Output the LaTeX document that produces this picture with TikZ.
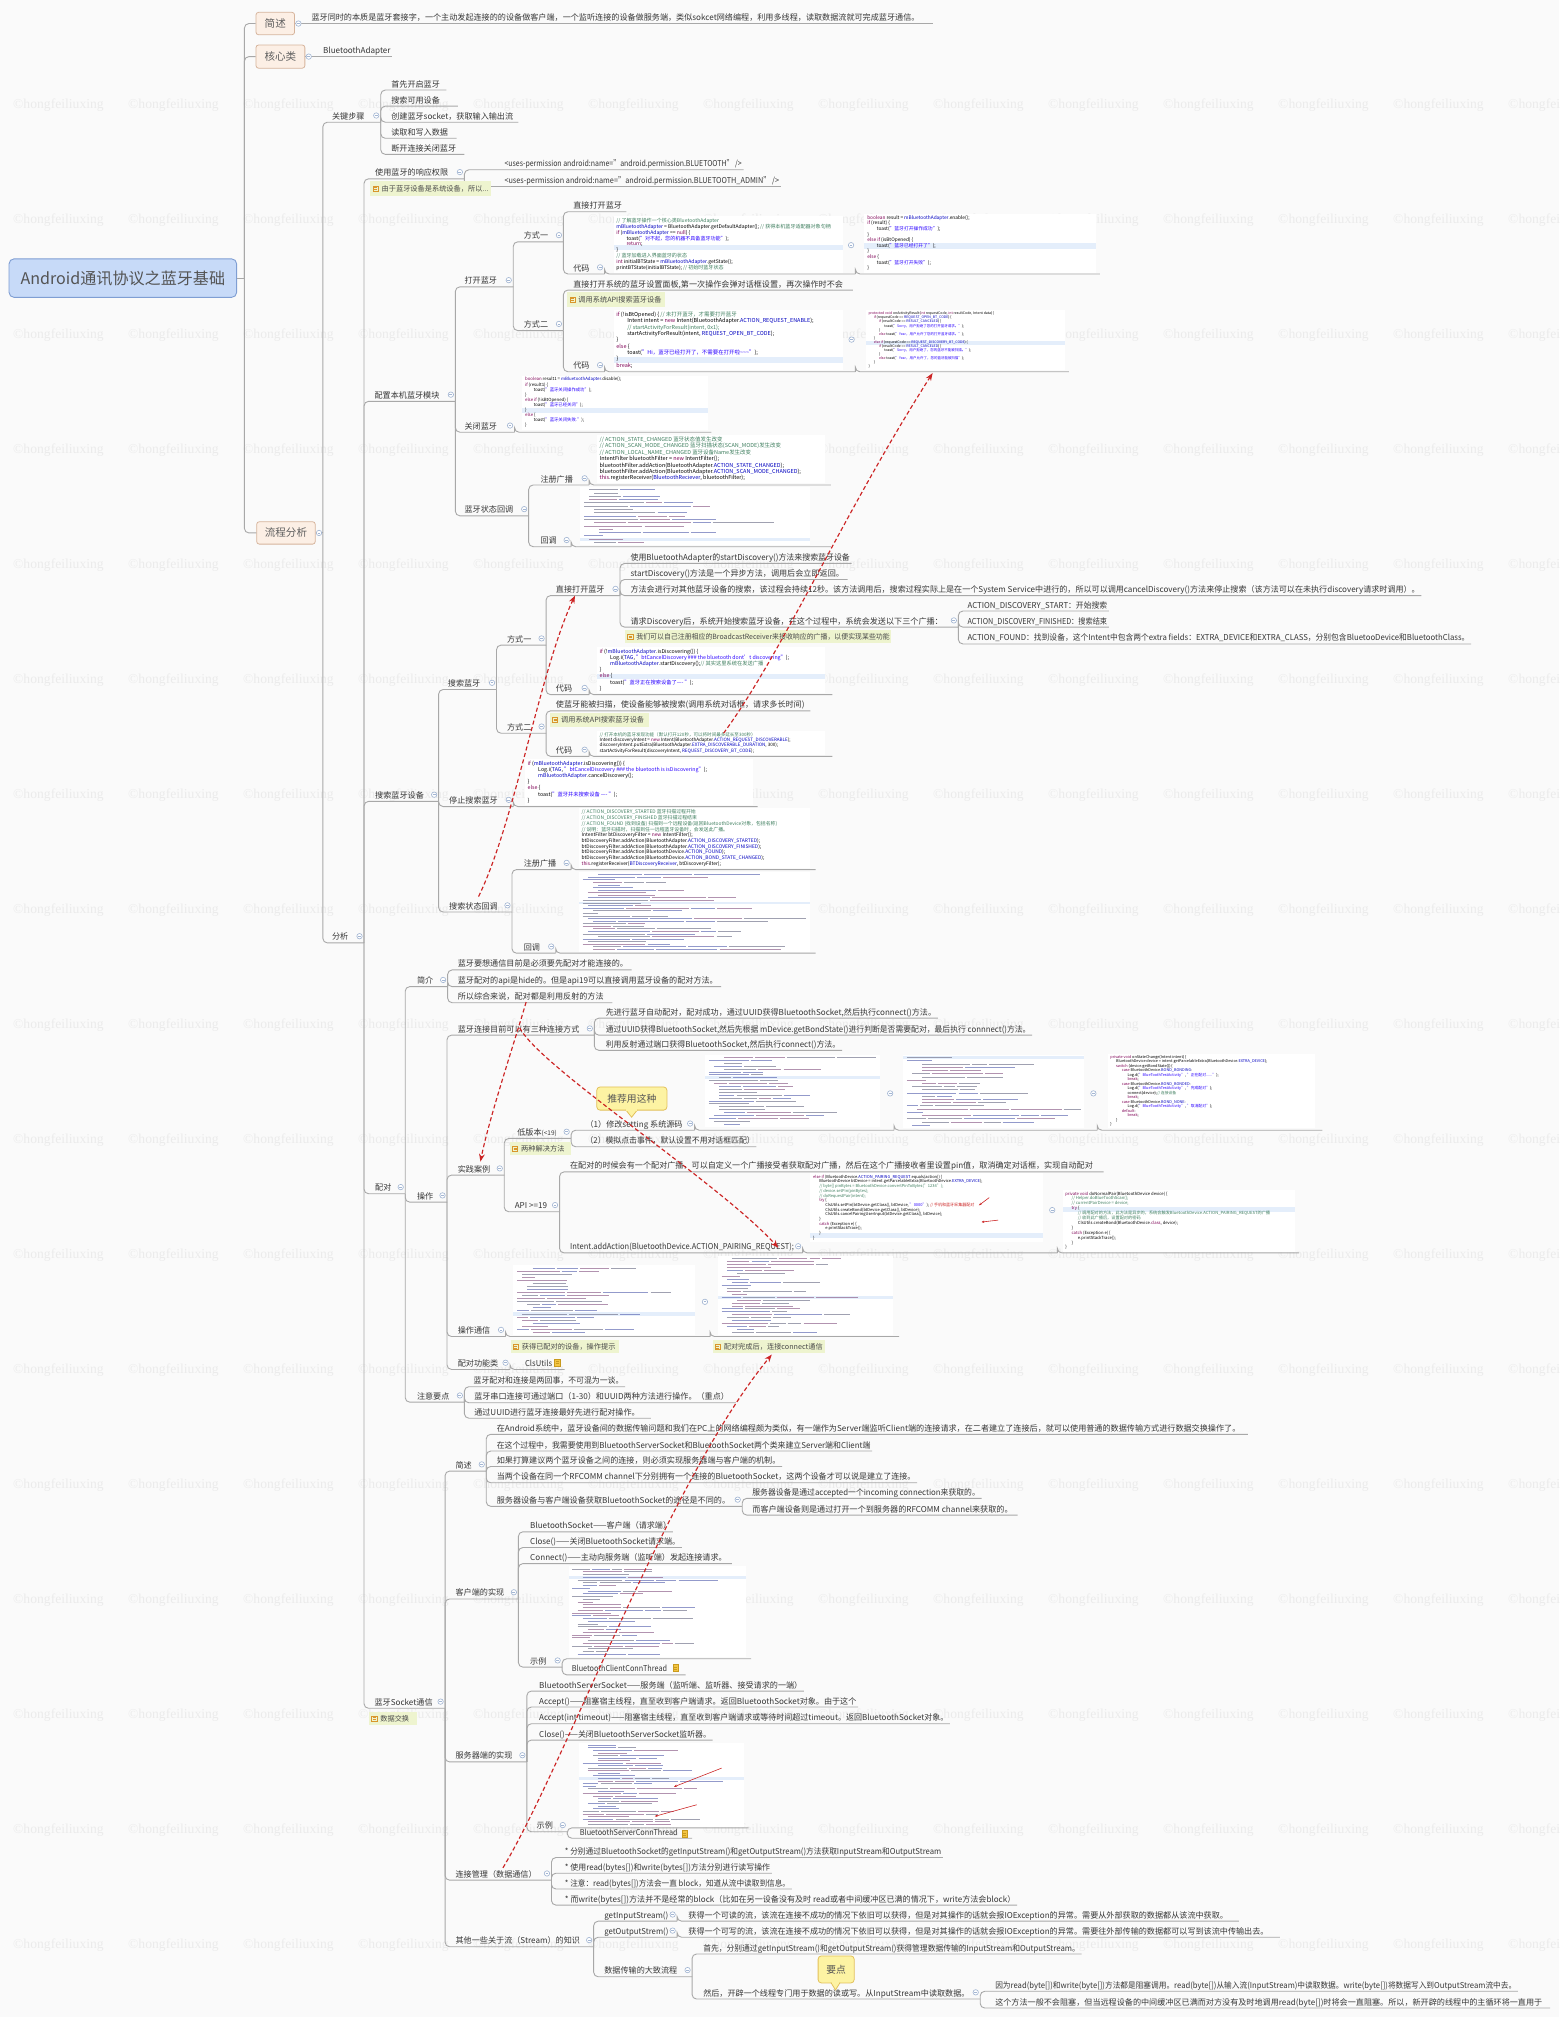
\documentclass[tikz,border=0pt]{standalone}
\usepackage{fontspec}
\usepackage{graphicx}
\setmainfont{Noto Sans CJK SC}
\newfontfamily\wmfont{Liberation Serif}
\usetikzlibrary{arrows.meta}
\definecolor{bgc}{HTML}{FAFAFA}
\definecolor{lnc}{HTML}{A8A8A8}
\definecolor{txc}{HTML}{363636}
\definecolor{lvfill}{HTML}{FCEFE5}
\definecolor{lvline}{HTML}{D6B49C}
\definecolor{rootfill}{HTML}{C7DAF8}
\definecolor{rootline}{HTML}{7F9ED3}
\definecolor{notebg}{HTML}{EEF4CF}
\definecolor{noteic}{HTML}{D9962B}
\definecolor{clpc}{HTML}{A3B6D3}
\definecolor{wmc}{HTML}{EBEBEB}
\definecolor{callfill}{HTML}{FDF3A3}
\definecolor{callline}{HTML}{E2C059}
\definecolor{redc}{HTML}{CC2424}
\definecolor{hlc}{HTML}{E4EEFB}
\definecolor{kwc}{HTML}{7F0055}
\definecolor{stc}{HTML}{2A00FF}
\definecolor{cmc}{HTML}{3F7F5F}
\definecolor{fdc}{HTML}{0000C0}
\definecolor{fakeA}{HTML}{6E7088}
\definecolor{fakeB}{HTML}{8A5A86}
\definecolor{fakeC}{HTML}{5A64B0}
\definecolor{fileic}{HTML}{F4C542}
\definecolor{fileln}{HTML}{C99A1E}
\newsavebox\fitb
\newcommand\fitw[2]{\sbox\fitb{#2}\ifdim\wd\fitb>#1\relax\resizebox{#1}{\ht\fitb}{\usebox\fitb}\else\usebox\fitb\fi}
\newcommand\fitbox[3]{\sbox\fitb{#3}\edef\fbw{\the\wd\fitb}\edef\fbh{\the\dimexpr\ht\fitb+\dp\fitb\relax}\pgfmathsetmacro\fsc{min((#1)/\fbw,(#2)/\fbh)}\scalebox{\fsc}{\usebox\fitb}}
\newcommand\kw[1]{\textcolor{kwc}{#1}}
\newcommand\cstr[1]{\textcolor{stc}{#1}}
\newcommand\ccm[1]{\textcolor{cmc}{#1}}
\newcommand\cfld[1]{\textcolor{fdc}{#1}}
\newcommand\codefnt{\fontsize{5}{5.8}\selectfont}
\tikzset{
  conn/.style={draw=lnc, line width=0.7pt, rounded corners=3.5pt},
  tpx/.style={anchor=base west, inner sep=0pt, text=txc, font=\fontsize{6.3}{7}\selectfont},
  lvbox/.style={draw=lvline, fill=lvfill, rounded corners=2pt, line width=0.6pt, inner sep=0pt, text=txc!80, font=\fontsize{8.2}{9}\selectfont},
  rootbox/.style={draw=rootline, fill=rootfill, rounded corners=4pt, line width=0.7pt, inner sep=0pt, text=txc!85, font=\fontsize{12.5}{14}\selectfont},
  clp/.style={draw=clpc, fill=white, line width=0.5pt},
  clpm/.style={draw=clpc, line width=0.5pt},
  imgb/.style={fill=white, draw=none, inner sep=0pt},
  wm/.style={text=wmc, font=\wmfont\fontsize{10.6}{11}\selectfont, inner sep=0pt, anchor=west},
  notet/.style={anchor=west, inner sep=0pt, text=txc!90, font=\fontsize{5.6}{6}\selectfont},
  redarr/.style={draw=redc, line width=0.9pt, dash pattern=on 3.2pt off 2pt, -{Stealth[length=6pt,width=4.5pt]}},
  redthin/.style={draw=redc, line width=0.45pt, -{Stealth[length=2.2pt,width=1.8pt]}},
  codef/.style={anchor=north west, inner sep=0pt},
  callb/.style={draw=callline, fill=callfill, rounded corners=2.5pt, line width=0.6pt, inner sep=0pt, text=txc!85, font=\fontsize{7.6}{8}\selectfont},
}
\newcommand\tpg[6]{\node[tpx] (#1) at (#2,#3-2.3) {\fitw{#5pt}{#6}};\coordinate (#1-e) at (#4,#3);}
\newcommand\tp[5]{\pgfmathsetmacro\tpw{#4-#2-1.5}\tpg{#1}{#2}{#3}{#4}{\tpw}{#5}}
\newcommand\clps[2]{\draw[clp] (#1,#2) circle[radius=2.1pt]; \draw[clpm] ({#1-1.1},#2)--({#1+1.1},#2);}
\newcommand\tpc[5]{\pgfmathsetmacro\tpw{#4-#2-7}\tpg{#1}{#2}{#3}{#4}{\tpw}{#5}\clps{#4-3.5}{#3-5.2}}
\newcommand\cn[2]{\draw[conn] (#1-e) |- (#2-e);}
\newcommand\cimg[7]{\pgfmathsetmacro\cw{#4-#2}\pgfmathsetmacro\ch{#5-#3}%
  \node[imgb, minimum width=\cw pt, minimum height=\ch pt] (#1) at ({(#2+#4)/2},{(#3+#5)/2}) {};%
  \coordinate (#1-e) at (#6,#7);}
\newcommand\codeblk[5]{\node[codef] at ({#1+2},{#2+1.2}) {\fitbox{#3-#1-4}{#4-#2-2.4}{\codefnt\begin{tabular}{@{}l@{}}#5\end{tabular}}};}
\newcommand\hlband[4]{\fill[hlc] (#1,#2) rectangle (#3,#4);}
% pseudo code texture for illegible screenshots
\newcommand\fakecode[6]{%
  \pgfmathsetmacro\flh{(#4-#2-2)/#5}%
  \pgfmathsetmacro\flw{\flh*0.3}%
  \pgfmathsetmacro\fmax{#3-#1-6}%
  \ifnum#6>0 \fill[hlc] (#1,{#2+1+(#6-1)*\flh}) rectangle (#3,{#2+1+#6*\flh});\fi
  \foreach \fq in {1,...,#5}{%
    \pgfmathsetmacro\find{int(rnd*4)*4}%
    \xdef\fcur{\find}%
    \pgfmathsetmacro\nseg{int(1+rnd*3.5)}%
    \foreach \sg in {1,...,\nseg}{%
      \pgfmathsetmacro\fsl{(#3-#1-8)*(0.06+0.24*rnd)}%
      \pgfmathsetmacro\fend{min(\fcur+\fsl,\fmax)}%
      \pgfmathsetmacro\fcol{int(rnd*3)}%
      \ifdim\fend pt>\fcur pt
        \ifcase\fcol\relax \def\fc{fakeA}\or \def\fc{fakeB}\else \def\fc{fakeC}\fi
        \draw[draw=\fc, opacity=0.65, line width=\flw pt] ({#1+3+\fcur},{#2+1+(\fq-0.5)*\flh}) -- ({#1+3+\fend},{#2+1+(\fq-0.5)*\flh});
      \fi
      \pgfmathsetmacro\fnx{\fend+1.6}%
      \xdef\fcur{\fnx}%
    }%
  }}
\newcommand\notelab[6]{%
  \fill[notebg] (#2,#3) rectangle (#4,#5);%
  \pgfmathsetmacro\nym{(#3+#5)/2}%
  \draw[noteic, line width=0.45pt] ({#2+2},{\nym-2}) rectangle ({#2+6},{\nym+2});%
  \draw[noteic, line width=0.35pt] ({#2+2.8},{\nym-0.7}) -- ({#2+5.2},{\nym-0.7}) ({#2+2.8},{\nym+0.7}) -- ({#2+5.2},{\nym+0.7});%
  \node[notet] (#1) at ({#2+8.5},\nym) {\fitw{\dimexpr#4pt-#2pt-10pt\relax}{#6}};}
\newcommand\fileicon[2]{\filldraw[fill=fileic, draw=fileln, line width=0.3pt] (#1,#2) rectangle ({#1+4.3},{#2+5.5}); \draw[fileln, line width=0.3pt] ({#1+1},{#2+2}) -- ({#1+3.3},{#2+2}) ({#1+1},{#2+3.5}) -- ({#1+3.3},{#2+3.5});}
\begin{document}
\begin{tikzpicture}[x=1pt,y=-1pt]
\pgfmathsetseed{4242}
\useasboundingbox (0,0) rectangle (1212,1568);
\fill[bgc] (0,0) rectangle (1212,1568);
% watermark
\foreach \j in {0,...,16}{\foreach \k in {0,...,13}{\node[wm] at ({10+89.4*\k},{81.7+89.4*\j}) {©hongfeiliuxing};}}

% ===== root and level 1 =====
\node[rootbox, minimum width=177pt, minimum height=30pt] (root) at (95.5,216.2) {Android通讯协议之蓝牙基础};
\coordinate (root-e) at (190,216.2);
\draw[conn] (root.east) -- (root-e);
\node[lvbox, minimum width=30pt, minimum height=17.4pt] (js) at (214,18.3) {简述};
\node[lvbox, minimum width=38pt, minimum height=18pt] (hxl) at (218,44) {核心类};
\node[lvbox, minimum width=45.5pt, minimum height=17.4pt] (lcfx) at (222.3,414.3) {流程分析};
\draw[conn] (root-e) |- (js.west);
\draw[conn] (root-e) |- (hxl.west);
\draw[conn] (root-e) |- (lcfx.west);

\tp{jst}{242}{18.3}{725}{蓝牙同时的本质是蓝牙套接字，一个主动发起连接的的设备做客户端，一个监听连接的设备做服务端，类似sokcet网络编程，利用多线程，读取数据流就可完成蓝牙通信。}
\draw[conn] (js.east) -- (jst-e);
\clps{232}{18.3}
\tp{hxlt}{251}{44}{305}{BluetoothAdapter}
\draw[conn] (hxl.east) -- (hxlt-e);
\clps{240}{44}
\coordinate (lcfx-e) at (251,414.3);
\draw[conn] (lcfx.east) -- (lcfx-e);
\clps{248}{414.3}

% ===== 关键步骤 =====
\tpc{gjbz}{258}{95}{296}{关键步骤}
\tp{s1}{304}{70}{347}{首先开启蓝牙}
\tp{s2}{304}{82.5}{356}{搜索可用设备}
\tp{s3}{304}{95}{403}{创建蓝牙socket，获取输入输出流}
\tp{s4}{304}{107.5}{355}{读取和写入数据}
\tp{s5}{304}{120}{361}{断开连接关闭蓝牙}
\cn{lcfx}{gjbz}
\cn{gjbz}{s1}\cn{gjbz}{s2}\cn{gjbz}{s3}\cn{gjbz}{s4}\cn{gjbz}{s5}

% ===== 分析 =====
\tpc{fx}{258}{733}{283}{分析}
\cn{lcfx}{fx}

\tpc{sy}{291.5}{139}{361}{使用蓝牙的响应权限}
\tp{p1}{392}{132}{578}{<uses-permission android:name="android.permission.BLUETOOTH" />}
\tp{p2}{392}{145}{607}{<uses-permission android:name="android.permission.BLUETOOTH\_ADMIN" />}
\cn{fx}{sy}\cn{sy}{p1}\cn{sy}{p2}
\notelab{n1}{288}{141}{382}{152}{由于蓝牙设备是系统设备，所以...}

% 配置本机蓝牙模块
\tpc{pz}{291}{312}{354}{配置本机蓝牙模块}
\tpc{dk}{361}{223}{399}{打开蓝牙}
\tpc{fs1}{407}{188}{438}{方式一}
\tp{zj1}{445.5}{164.6}{487}{直接打开蓝牙}
\tpc{dm1}{445.5}{213}{470}{代码}
\cimg{i1}{477}{168}{655}{212}{665}{213}
\cimg{i2}{672}{166}{852}{212}{855}{213}
\tpc{fs2}{407}{257}{438}{方式二}
\tp{zj2}{445.5}{225.5}{663}{直接打开系统的蓝牙设置面板,第一次操作会弹对话框设置，再次操作时不会}
\tpc{dm2}{445.5}{289}{470}{代码}
\cimg{i3}{477}{241}{655}{288}{665}{289}
\cimg{i4}{673}{241}{828}{288}{831}{289}
\tpc{gb}{361}{336}{400}{关闭蓝牙}
\cimg{i5}{406}{292}{550}{334}{553}{336}
\tpc{zt}{361}{401}{411}{蓝牙状态回调}
\tpc{zc1}{420}{377}{458}{注册广播}
\cimg{i6}{464}{338}{641}{375.5}{646}{377}
\tpc{hd1}{420}{425}{444}{回调}
\cimg{i7}{451}{378.5}{630}{424}{646}{425}
\cn{fx}{pz}\cn{pz}{dk}\cn{pz}{gb}\cn{pz}{zt}
\cn{dk}{fs1}\cn{dk}{fs2}\cn{fs1}{zj1}\cn{fs1}{dm1}\cn{dm1}{i1}\cn{i1}{i2}
\cn{fs2}{zj2}\cn{fs2}{dm2}\cn{dm2}{i3}\cn{i3}{i4}
\cn{gb}{i5}\cn{zt}{zc1}\cn{zt}{hd1}\cn{zc1}{i6}\cn{hd1}{i7}
\clps{661.6}{190.6}
\clps{662}{264}
\notelab{n2}{441}{227}{517}{238.5}{调用系统API搜索蓝牙设备}

% 搜索蓝牙设备
\tpc{ss}{291.5}{623}{341}{搜索蓝牙设备}
\tpc{sl}{348}{536}{386}{搜索蓝牙}
\tpc{sf1}{394}{501.5}{424.5}{方式一}
\tpc{zj3}{432}{463}{482}{直接打开蓝牙}
\tp{a1}{490}{438}{662}{使用BluetoothAdapter的startDiscovery()方法来搜索蓝牙设备}
\tp{a2}{490}{450.5}{659}{startDiscovery()方法是一个异步方法，调用后会立即返回。}
\tp{a3}{490}{463}{1105}{方法会进行对其他蓝牙设备的搜索，该过程会持续12秒。该方法调用后，搜索过程实际上是在一个System Service中进行的，所以可以调用cancelDiscovery()方法来停止搜索（该方法可以在未执行discovery请求时调用）。}
\tpc{a4}{490}{487.5}{745}{请求Discovery后，系统开始搜索蓝牙设备，在这个过程中，系统会发送以下三个广播：}
\tp{b1}{752}{475}{862}{ACTION\_DISCOVERY\_START：开始搜索}
\tp{b2}{752}{487.5}{862}{ACTION\_DISCOVERY\_FINISHED：搜索结束}
\tp{b3}{752}{500.6}{1143.6}{ACTION\_FOUND：找到设备，这个Intent中包含两个extra fields：EXTRA\_DEVICE和EXTRA\_CLASS，分别包含BluetooDevice和BluetoothClass。}
\tpc{dm3}{432}{540}{458}{代码}
\cimg{i8}{464}{503}{641}{539}{647}{540}
\tpc{sf2}{394}{570}{424.5}{方式二}
\tp{ss2}{432}{552.6}{630}{使蓝牙能被扫描，使设备能够被搜索(调用系统对话框，请求多长时间)}
\tpc{dm4}{432}{588}{458}{代码}
\cimg{i9}{464}{568}{641}{587}{647}{588}
\tpc{tz}{349}{627}{399}{停止搜索蓝牙}
\cimg{i10}{408}{590}{585}{626}{589}{627}
\tpc{sz}{349}{709}{398}{搜索状态回调}
\tpc{zc2}{407}{676}{444}{注册广播}
\cimg{i11}{450}{628}{630}{675}{634}{676}
\tpc{hd2}{407}{741}{432}{回调}
\cimg{i12}{450}{678}{630}{740}{634}{741}
\cn{fx}{ss}\cn{ss}{sl}\cn{ss}{tz}\cn{ss}{sz}
\cn{sl}{sf1}\cn{sl}{sf2}\cn{sf1}{zj3}\cn{sf1}{dm3}
\cn{zj3}{a1}\cn{zj3}{a2}\cn{zj3}{a3}\cn{zj3}{a4}
\cn{a4}{b1}\cn{a4}{b2}\cn{a4}{b3}
\cn{dm3}{i8}\cn{sf2}{ss2}\cn{sf2}{dm4}\cn{dm4}{i9}
\cn{tz}{i10}\cn{sz}{zc2}\cn{sz}{hd2}\cn{zc2}{i11}\cn{hd2}{i12}
\notelab{n3}{486}{490}{693}{500}{我们可以自己注册相应的BroadcastReceiver来接收响应的广播，以便实现某些功能}
\notelab{n4}{427.5}{554}{504.5}{565}{调用系统API搜索蓝牙设备}

% ===== 配对 =====
\tpc{pd}{291.5}{928}{315}{配对}
\tpc{jj}{324}{767}{348}{简介}
\tp{j1}{355.7}{754}{491}{蓝牙要想通信目前是必须要先配对才能连接的。}
\tp{j2}{355.7}{767}{560.6}{蓝牙配对的api是hide的。但是api19可以直接调用蓝牙设备的配对方法。}
\tp{j3}{355.7}{779.5}{476}{所以综合来说，配对都是利用反射的方法}
\tpc{cz}{324}{934.5}{347.5}{操作}
\tpc{lj}{355.7}{804.7}{462}{蓝牙连接目前可以有三种连接方式}
\tp{l1}{470.7}{791.5}{729}{先进行蓝牙自动配对，配对成功，通过UUID获得BluetoothSocket,然后执行connect()方法。}
\tp{l2}{470.7}{804.7}{802.4}{通过UUID获得BluetoothSocket,然后先根据 mDevice.getBondState()进行判断是否需要配对，最后执行 connnect()方法。}
\tp{l3}{470.7}{816.5}{654.6}{利用反射通过端口获得BluetoothSocket,然后执行connect()方法。}
\tpc{sj}{355.7}{913.5}{392}{实践案例}
\tpc{db}{402}{885}{444}{低版本{\fontsize{5}{6}\selectfont(<19)}}
\tpc{d1}{455}{878.6}{540}{（1）修改setting 系统源码}
\cimg{i13}{548}{820}{684}{876}{695}{878.6}
\cimg{i14}{702}{820}{843}{877}{853}{878.6}
\cimg{i15}{861}{819}{1022}{877}{1028}{878.6}
\tp{d2}{455}{891.5}{588}{（2）模拟点击事件，默认设置不用对话框匹配）}
\tpc{api}{400}{942}{435}{API >=19}
\tp{e1}{443}{911}{858}{在配对的时候会有一个配对广播，可以自定义一个广播接受者获取配对广播，然后在这个广播接收者里设置pin值，取消确定对话框，实现自动配对}
\tpc{e2}{443}{974}{624}{Intent.addAction(BluetoothDevice.ACTION\_PAIRING\_REQUEST);}
\cimg{i16}{630}{912}{811}{965.5}{822}{974}
\cimg{i17}{826}{925}{1007}{973}{1010}{974}
\tpc{tx}{355.7}{1039}{393}{操作通信}
\cimg{i18}{399}{983.5}{540}{1038}{552}{1039}
\cimg{i19}{558}{976.5}{694}{1038}{699}{1039}
\tpc{gn}{355.7}{1064.6}{396.5}{配对功能类}
\tpg{cu}{408}{1064.6}{439}{21}{ClsUtils}
\tpc{zy}{324}{1090}{361}{注意要点}
\tp{z1}{368}{1078}{486}{蓝牙配对和连接是两回事，不可混为一谈。}
\tp{z2}{368.5}{1090.5}{572}{蓝牙串口连接可通过端口（1-30）和UUID两种方法进行操作。（重点）}
\tp{z3}{368.5}{1102.5}{506}{通过UUID进行蓝牙连接最好先进行配对操作。}
\cn{fx}{pd}\cn{pd}{jj}\cn{pd}{cz}\cn{pd}{zy}
\cn{jj}{j1}\cn{jj}{j2}\cn{jj}{j3}
\cn{cz}{lj}\cn{cz}{sj}\cn{cz}{tx}\cn{cz}{gn}
\cn{lj}{l1}\cn{lj}{l2}\cn{lj}{l3}
\cn{sj}{db}\cn{sj}{api}\cn{db}{d1}\cn{db}{d2}\cn{d1}{i13}\cn{i13}{i14}\cn{i14}{i15}
\cn{api}{e1}\cn{api}{e2}\cn{e2}{i16}\cn{i16}{i17}
\cn{tx}{i18}\cn{i18}{i19}\cn{gn}{cu}
\cn{zy}{z1}\cn{zy}{z2}\cn{zy}{z3}
\clps{692}{850}\clps{850}{850}\clps{818}{940.7}\clps{548}{1012}
\notelab{n5}{396.5}{888}{444}{898}{两种解决方法}
\notelab{n6}{397}{1042}{481}{1052}{获得已配对的设备，操作提示}
\notelab{n7}{554}{1042}{641}{1052}{配对完成后，连接connect通信}
\fileicon{431}{1056.5}

% ===== 蓝牙Socket通信 =====
\tpc{sk}{291}{1328}{346}{蓝牙Socket通信}
\tpc{js2}{354}{1143.6}{378}{简述}
\tp{k1}{386}{1115}{970}{在Android系统中，蓝牙设备间的数据传输问题和我们在PC上的网络编程颇为类似，有一端作为Server端监听Client端的连接请求，在二者建立了连接后，就可以使用普通的数据传输方式进行数据交换操作了。}
\tp{k2}{386}{1128}{678}{在这个过程中，我需要使用到BluetoothServerSocket和BluetoothSocket两个类来建立Server端和Client端}
\tp{k3}{386}{1140}{608}{如果打算建议两个蓝牙设备之间的连接，则必须实现服务器端与客户端的机制。}
\tp{k4}{386}{1152.7}{713}{当两个设备在同一个RFCOMM channel下分别拥有一个连接的BluetoothSocket，这两个设备才可以说是建立了连接。}
\tpc{k5}{386}{1171}{577}{服务器设备与客户端设备获取BluetoothSocket的途径是不同的。}
\tp{k51}{584.7}{1164.8}{763}{服务器设备是通过accepted一个incoming connection来获取的。}
\tp{k52}{584.7}{1177.8}{791}{而客户端设备则是通过打开一个到服务器的RFCOMM channel来获取的。}
\tpc{kh}{354}{1243}{403}{客户端的实现}
\tp{c1}{412}{1190.8}{523}{BluetoothSocket——客户端（请求端）}
\tp{c2}{412}{1203}{530}{Close()——关闭BluetoothSocket请求端。}
\tp{c3}{412}{1215.5}{569}{Connect()——主动向服务端（监听端）发起连接请求。}
\tpc{c4}{412}{1296}{437}{示例}
\cimg{i20}{442}{1217.6}{580}{1288}{584}{1289.5}
\tpg{cc}{444.4}{1302}{533}{74}{BluetoothClientConnThread}
\tpc{fw}{354}{1369.7}{409.6}{服务器端的实现}
\tp{f1}{419}{1314.6}{625}{BluetoothServerSocket——服务端（监听端、监听器、接受请求的一端）}
\tp{f2}{419}{1327}{667}{Accept()——阻塞宿主线程，直至收到客户端请求。返回BluetoothSocket对象。由于这个}
\tp{f3}{419}{1340}{738.5}{Accept(int timeout)——阻塞宿主线程，直至收到客户端请求或等待时间超过timeout。返回BluetoothSocket对象。}
\tp{f4}{419}{1352.7}{554}{Close()——关闭BluetoothServerSocket监听器。}
\tpc{f5}{417}{1424}{441}{示例}
\cimg{i21}{450}{1354.8}{578.6}{1420}{582}{1421}
\tpg{fc}{450.6}{1429}{538}{76}{BluetoothServerConnThread}
\tpc{gl}{354}{1461.6}{428.7}{连接管理（数据通信）}
\tp{g1}{439}{1444}{733}{* 分别通过BluetoothSocket的getInputStream()和getOutputStream()方法获取InputStream和OutputStream}
\tp{g2}{439}{1456.2}{600}{* 使用read(bytes[])和write(bytes[])方法分别进行读写操作}
\tp{g3}{439}{1468.5}{615.5}{* 注意：read(bytes[])方法会一直 block，知道从流中读取到信息。}
\tp{g4}{439}{1481}{790.6}{* 而write(bytes[])方法并不是经常的block（比如在另一设备没有及时 read或者中间缓冲区已满的情况下，write方法会block）}
\tpc{qt}{354}{1513.4}{461.5}{其他一些关于流（Stream）的知识}
\tpc{gi}{469.6}{1493.5}{526.4}{getInputStream()}
\tp{gi1}{535}{1493.5}{963}{获得一个可读的流，该流在连接不成功的情况下依旧可以获得，但是对其操作的话就会报IOException的异常。需要从外部获取的数据都从该流中获取。}
\tpc{go}{469.6}{1506}{526.4}{getOutputStrem()}
\tp{go1}{535}{1506}{995}{获得一个可写的流，该流在连接不成功的情况下依旧可以获得，但是对其操作的话就会报IOException的异常。需要往外部传输的数据都可以写到该流中传输出去。}
\tpc{sc}{469.6}{1536.7}{538}{数据传输的大致流程}
\tp{sc1}{546.5}{1519}{840.8}{首先，分别通过getInputStream()和getOutputStream()获得管理数据传输的InputStream和OutputStream。}
\tpc{sc2}{546.5}{1554}{762}{然后，开辟一个线程专门用于数据的读或写。从InputStream中读取数据。}
\tp{sc21}{773.5}{1548}{1180}{因为read(byte[])和write(byte[])方法都是阻塞调用。read(byte[])从输入流(InputStream)中读取数据。write(byte[])将数据写入到OutputStream流中去。}
\tp{sc22}{773.5}{1561}{1205}{这个方法一般不会阻塞，但当远程设备的中间缓冲区已满而对方没有及时地调用read(byte[])时将会一直阻塞。所以，新开辟的线程中的主循环将一直用于}
\cn{fx}{sk}\cn{sk}{js2}\cn{sk}{kh}\cn{sk}{fw}\cn{sk}{gl}\cn{sk}{qt}
\cn{js2}{k1}\cn{js2}{k2}\cn{js2}{k3}\cn{js2}{k4}\cn{js2}{k5}\cn{k5}{k51}\cn{k5}{k52}
\cn{kh}{c1}\cn{kh}{c2}\cn{kh}{c3}\cn{kh}{c4}\cn{c4}{i20}\cn{c4}{cc}
\cn{fw}{f1}\cn{fw}{f2}\cn{fw}{f3}\cn{fw}{f4}\cn{fw}{f5}\cn{f5}{i21}\cn{f5}{fc}
\cn{gl}{g1}\cn{gl}{g2}\cn{gl}{g3}\cn{gl}{g4}
\cn{qt}{gi}\cn{qt}{go}\cn{qt}{sc}\cn{gi}{gi1}\cn{go}{go1}
\cn{sc}{sc1}\cn{sc}{sc2}\cn{sc2}{sc21}\cn{sc2}{sc22}
\notelab{n8}{287}{1331}{324}{1341}{数据交换}
\fileicon{523}{1293.8}
\fileicon{530}{1423}

% ===== code images: content =====
\hlband{477}{190.5}{655}{194.5}
\codeblk{477}{168}{655}{212}{\ccm{// 了解蓝牙操作一个核心类BluetoothAdapter}\\
\cfld{mBluetoothAdapter} = BluetoothAdapter.getDefaultAdapter(); \ccm{// 获得本机蓝牙适配器对象句柄}\\
\kw{if} (\cfld{mBluetoothAdapter} == \kw{null}) \{\\
\hspace*{2em}toast(\cstr{"对不起，您的机器不具备蓝牙功能"});\\
\hspace*{2em}\kw{return};\\
\}\\
\ccm{// 蓝牙加载进入界面蓝牙的状态}\\
\kw{int} initialBTState = \cfld{mBluetoothAdapter}.getState();\\
printBTState(initialBTState); \ccm{// 初始时蓝牙状态}}
\hlband{672}{189}{852}{193.5}
\codeblk{672}{166}{852}{212}{\kw{boolean} result = \cfld{mBluetoothAdapter}.enable();\\
\kw{if} (result) \{\\
\hspace*{2em}toast(\cstr{"蓝牙打开操作成功"});\\
\}\\
\kw{else if} (isBtOpened) \{\\
\hspace*{2em}toast(\cstr{"蓝牙已经打开了"});\\
\}\\
\kw{else} \{\\
\hspace*{2em}toast(\cstr{"蓝牙打开失败"});\\
\}}
\hlband{477}{277.5}{655}{282}
\codeblk{477}{241}{655}{288}{\kw{if} (!isBtOpened) \{ \ccm{// 未打开蓝牙，才需要打开蓝牙}\\
\hspace*{2em}Intent intent = \kw{new} Intent(BluetoothAdapter.\cfld{ACTION\_REQUEST\_ENABLE});\\
\hspace*{2em}\ccm{// startActivityForResult(intent, 0x1);}\\
\hspace*{2em}startActivityForResult(intent, \cfld{REQUEST\_OPEN\_BT\_CODE});\\
\}\\
\kw{else} \{\\
\hspace*{2em}toast(\cstr{"Hi，蓝牙已经打开了，不需要在打开啦\textasciitilde\textasciitilde\textasciitilde"});\\
\}\\
\kw{break};}
\hlband{673}{265}{828}{268.5}
\codeblk{673}{241}{828}{288}{\kw{protected void} onActivityResult(\kw{int} requestCode, \kw{int} resultCode, Intent data) \{\\
\hspace*{1.5em}\kw{if} (requestCode == \cfld{REQUEST\_OPEN\_BT\_CODE}) \{\\
\hspace*{3em}\kw{if} (resultCode == \cfld{RESULT\_CANCELED}) \{\\
\hspace*{4.5em}toast(\cstr{"Sorry，用户拒绝了您的打开蓝牙请求。"});\\
\hspace*{3em}\}\\
\hspace*{3em}\kw{else} toast(\cstr{"Year，用户允许了您的打开蓝牙请求。"});\\
\hspace*{1.5em}\}\\
\hspace*{1.5em}\kw{else if} (requestCode == \cfld{REQUEST\_DISCOVERY\_BT\_CODE}) \{\\
\hspace*{3em}\kw{if} (resultCode == \cfld{RESULT\_CANCELED}) \{\\
\hspace*{4.5em}toast(\cstr{"Sorry，用户拒绝了，您的蓝牙不能被扫描。"});\\
\hspace*{3em}\}\\
\hspace*{3em}\kw{else} toast(\cstr{"Year，用户允许了，您的蓝牙能被扫描"});\\
\hspace*{1.5em}\}\\
\}}
\hlband{406}{317}{550}{321}
\codeblk{406}{292}{550}{334}{\kw{boolean} result1 = \cfld{mBluetoothAdapter}.disable();\\
\kw{if} (result1) \{\\
\hspace*{2em}toast(\cstr{"蓝牙关闭操作成功"});\\
\}\\
\kw{else if} (!isBtOpened) \{\\
\hspace*{2em}toast(\cstr{"蓝牙已经关闭"});\\
\}\\
\kw{else} \{\\
\hspace*{2em}toast(\cstr{"蓝牙关闭失败."});\\
\}}
\codeblk{464}{338}{641}{375.5}{\ccm{// ACTION\_STATE\_CHANGED 蓝牙状态值发生改变}\\
\ccm{// ACTION\_SCAN\_MODE\_CHANGED 蓝牙扫描状态(SCAN\_MODE)发生改变}\\
\ccm{// ACTION\_LOCAL\_NAME\_CHANGED 蓝牙设备Name发生改变}\\
IntentFilter bluetoothFilter = \kw{new} IntentFilter();\\
bluetoothFilter.addAction(BluetoothAdapter.\cfld{ACTION\_STATE\_CHANGED});\\
bluetoothFilter.addAction(BluetoothAdapter.\cfld{ACTION\_SCAN\_MODE\_CHANGED});\\
\kw{this}.registerReceiver(\cfld{BluetoothReciever}, bluetoothFilter);}
\fakecode{451}{378.5}{630}{424}{17}{16}
\hlband{464}{524}{641}{528}
\codeblk{464}{503}{641}{539}{\kw{if} (!\cfld{mBluetoothAdapter}.isDiscovering()) \{\\
\hspace*{2em}Log.i(\cfld{TAG}, \cstr{"btCancelDiscovery \#\#\# the bluetooth dont't discovering"});\\
\hspace*{2em}\cfld{mBluetoothAdapter}.startDiscovery();\ccm{// 其实这里系统在发送广播}\\
\}\\
\kw{else} \{\\
\hspace*{2em}toast(\cstr{"蓝牙正在搜索设备了---- "});\\
\}}
\codeblk{464}{568}{641}{587}{\ccm{// 打开本机的蓝牙发现功能（默认打开120秒，可以将时间最多延长至300秒）}\\
Intent discoveryIntent = \kw{new} Intent(BluetoothAdapter.\cfld{ACTION\_REQUEST\_DISCOVERABLE});\\
discoveryIntent.putExtra(BluetoothAdapter.\cfld{EXTRA\_DISCOVERABLE\_DURATION}, 300);\\
startActivityForResult(discoveryIntent, \cfld{REQUEST\_DISCOVERY\_BT\_CODE});}
\codeblk{408}{590}{585}{626}{\kw{if} (\cfld{mBluetoothAdapter}.isDiscovering()) \{\\
\hspace*{2em}Log.i(\cfld{TAG}, \cstr{"btCancelDiscovery \#\#\# the bluetooth is isDiscovering"});\\
\hspace*{2em}\cfld{mBluetoothAdapter}.cancelDiscovery();\\
\}\\
\kw{else} \{\\
\hspace*{2em}toast(\cstr{"蓝牙并未搜索设备 ---- "});\\
\}}
\codeblk{450}{628}{630}{675}{\ccm{// ACTION\_DISCOVERY\_STARTED 蓝牙扫描过程开始}\\
\ccm{// ACTION\_DISCOVERY\_FINISHED 蓝牙扫描过程结束}\\
\ccm{// ACTION\_FOUND (找到设备) 扫描到一个远程设备(返回BluetoothDevice对象，包括名称)}\\
\ccm{// 说明：蓝牙扫描时，扫描到任一远程蓝牙设备时，会发送此广播。}\\
IntentFilter btDiscoveryFilter = \kw{new} IntentFilter();\\
btDiscoveryFilter.addAction(BluetoothAdapter.\cfld{ACTION\_DISCOVERY\_STARTED});\\
btDiscoveryFilter.addAction(BluetoothAdapter.\cfld{ACTION\_DISCOVERY\_FINISHED});\\
btDiscoveryFilter.addAction(BluetoothDevice.\cfld{ACTION\_FOUND});\\
btDiscoveryFilter.addAction(BluetoothDevice.\cfld{ACTION\_BOND\_STATE\_CHANGED});\\
\kw{this}.registerReceiver(\cfld{BTDiscoveryReceiver}, btDiscoveryFilter);}
\fakecode{450}{678}{630}{740}{30}{12}
\fakecode{548}{820}{684}{876}{24}{8}
\fakecode{702}{820}{843}{877}{22}{1}
\codeblk{861}{819}{1022}{877}{\kw{private void} onStateChange(Intent intent) \{\\
\hspace*{1.5em}BluetoothDevice device = intent.getParcelableExtra(BluetoothDevice.\cfld{EXTRA\_DEVICE});\\
\hspace*{1.5em}\kw{switch} (device.getBondState()) \{\\
\hspace*{3em}\kw{case} BluetoothDevice.\cfld{BOND\_BONDING}:\\
\hspace*{4.5em}Log.d(\cstr{"BlueToothTestActivity"}, \cstr{"正在配对......"});\\
\hspace*{4.5em}\kw{break};\\
\hspace*{3em}\kw{case} BluetoothDevice.\cfld{BOND\_BONDED}:\\
\hspace*{4.5em}Log.d(\cstr{"BlueToothTestActivity"}, \cstr{"完成配对"});\\
\hspace*{4.5em}connect(device);\ccm{// 连接设备}\\
\hspace*{4.5em}\kw{break};\\
\hspace*{3em}\kw{case} BluetoothDevice.\cfld{BOND\_NONE}:\\
\hspace*{4.5em}Log.d(\cstr{"BlueToothTestActivity"}, \cstr{"取消配对"});\\
\hspace*{3em}\kw{default}:\\
\hspace*{4.5em}\kw{break};\\
\hspace*{1.5em}\}\\
\}}
\hlband{630}{958.5}{811}{962.5}
\codeblk{630}{912}{811}{965.5}{\kw{else if} (BluetoothDevice.\cfld{ACTION\_PAIRING\_REQUEST}.equals(action)) \{\\
\hspace*{1.5em}BluetoothDevice btDevice = intent.getParcelableExtra(BluetoothDevice.\cfld{EXTRA\_DEVICE});\\
\hspace*{1.5em}\ccm{// byte[] pinBytes = BluetoothDevice.convertPinToBytes("1234");}\\
\hspace*{1.5em}\ccm{// device.setPin(pinBytes);}\\
\hspace*{1.5em}\ccm{// doRequestPair(intent);}\\
\hspace*{1.5em}\kw{try} \{\\
\hspace*{3em}ClsUtils.setPin(btDevice.getClass(), btDevice, \cstr{"0000"}); \textcolor{redc}{// 手机和蓝牙采集器配对}\\
\hspace*{3em}ClsUtils.createBond(btDevice.getClass(), btDevice);\\
\hspace*{3em}ClsUtils.cancelPairingUserInput(btDevice.getClass(), btDevice);\\
\hspace*{1.5em}\}\\
\hspace*{1.5em}\kw{catch} (Exception e) \{\\
\hspace*{3em}e.printStackTrace();\\
\hspace*{1.5em}\}\\
\}}
\hlband{826}{938}{1007}{942}
\codeblk{826}{925}{1007}{973}{\kw{private void} doNormalPair(BluetoothDevice device) \{\\
\hspace*{1.5em}\ccm{// Helper.doBlueToothScan();}\\
\hspace*{1.5em}\ccm{// currentPairDevice = device;}\\
\hspace*{1.5em}\kw{try} \{\\
\hspace*{3em}\ccm{// 调用配对的方法，此方法是异步的，系统会触发BluetoothDevice.ACTION\_PAIRING\_REQUEST的广播}\\
\hspace*{3em}\ccm{// 收到此广播后，设置配对的密码}\\
\hspace*{3em}ClsUtils.createBond(BluetoothDevice.\kw{class}, device);\\
\hspace*{1.5em}\}\\
\hspace*{1.5em}\kw{catch} (Exception e) \{\\
\hspace*{3em}e.printStackTrace();\\
\hspace*{1.5em}\}\\
\}}
\fakecode{399}{983.5}{540}{1038}{22}{16}
\fakecode{558}{976.5}{694}{1038}{26}{14}
\fakecode{442}{1217.6}{580}{1288}{32}{4}
\fakecode{450}{1354.8}{578.6}{1420}{32}{14}
\draw[redthin] (769,931) -- (761,937);
\draw[redthin] (776,948.5) -- (763,950);
\draw[redthin] (561,1374.5) -- (524,1389);
\draw[redthin] (541.6,1403) -- (509,1412);

% ===== callouts =====
\node[callb, minimum width=54.5pt, minimum height=18pt] (rec) at (491.2,854) {推荐用这种};
\path[fill=callfill, draw=callline, line width=0.6pt] (486.5,862.8) -- (491,868.5) -- (495.5,862.8);
\fill[callfill] (487,861.6) rectangle (495,863.4);
\node[callb, minimum width=28pt, minimum height=21pt] (yd) at (650,1531) {要点};
\path[fill=callfill, draw=callline, line width=0.6pt] (646,1541.3) -- (649.5,1547) -- (653,1541.3);
\fill[callfill] (646.5,1540.2) rectangle (652.5,1542);

% ===== red dashed arrows =====
\coordinate (a1s) at (562.5,570); \coordinate (a1t) at (725,290);
\draw[redarr] (a1s) .. controls (608,508) and (655,400) .. (a1t);
\coordinate (a2s) at (372,697); \coordinate (a2t) at (447,463);
\draw[redarr] (a2s) .. controls (400,640) and (420,520) .. (a2t);
\coordinate (a3s) at (409,779); \coordinate (a3t) at (373.5,903);
\draw[redarr] (a3s) .. controls (400,810) and (380,870) .. (a3t);
\coordinate (a4s) at (404,799); \coordinate (a4t) at (605,970);
\draw[redarr] (a4s) .. controls (420,830) and (560,920) .. (a4t);
\coordinate (a5s) at (391,1452); \coordinate (a5t) at (600,1053);
\draw[redarr] (a5s) .. controls (440,1370) and (520,1150) .. (a5t);
\end{tikzpicture}
\end{document}
